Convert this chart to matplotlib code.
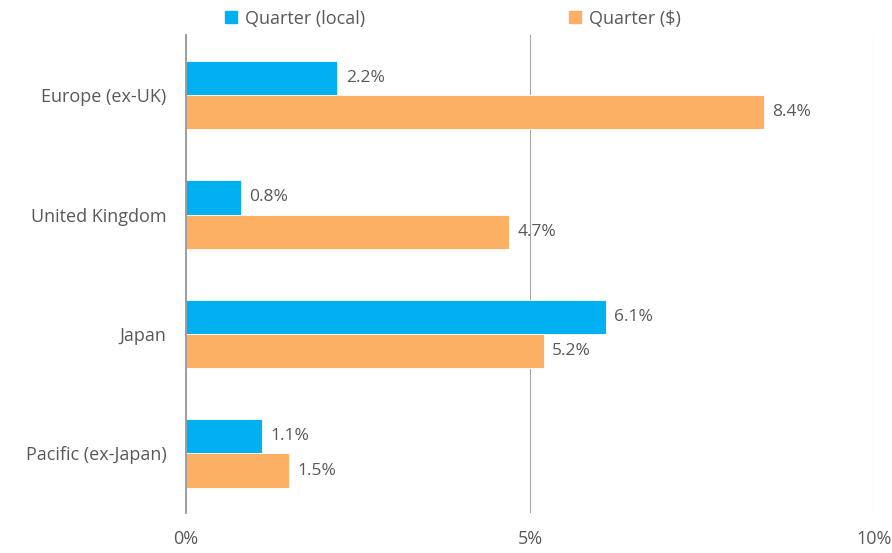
import numpy as np
import matplotlib.pyplot as plt
from matplotlib.patches import Patch

regions = ["Europe (ex-UK)", "United Kingdom", "Japan", "Pacific (ex-Japan)"]
local_ret = [2.2, 0.8, 6.1, 1.1]
usd_ret = [8.4, 4.7, 5.2, 1.5]
series_names = ["Quarter (local)", "Quarter ($)"]
x_ticks = [0, 5, 10]
x_tick_labels = ["0%", "5%", "10%"]

blue = "#00B0F0"
orange = "#FBB063"
text_col = "#595959"

plt.rcParams['font.family'] = ['Open Sans', 'DejaVu Sans']

fig = plt.figure(figsize=(8.92, 5.53), dpi=100)
ax = fig.add_axes([0.2085, 0.072, 0.7715, 0.864])

y = np.arange(len(regions))
h = 0.286
b1 = ax.barh(y - h / 2, local_ret, height=h, color=blue, edgecolor="white", linewidth=0.6)
b2 = ax.barh(y + h / 2, usd_ret, height=h, color=orange, edgecolor="white", linewidth=0.6)

for bars, vals in [(b1, local_ret), (b2, usd_ret)]:
    for bar, v in zip(bars, vals):
        ax.annotate(f"{v:.1f}%", (v, bar.get_y() + bar.get_height() / 2),
                    xytext=(6, 0), textcoords="offset points",
                    va="center", ha="left", fontsize=12.5, color=text_col)

ax.set_xlim(0, 10)
ax.set_ylim(len(regions) - 0.5, -0.5)
ax.set_yticks(y)
ax.set_yticklabels(regions, fontsize=13, color=text_col)
ax.set_xticks(x_ticks)
ax.set_xticklabels(x_tick_labels, fontsize=13, color=text_col)
ax.tick_params(axis="both", length=0)
ax.tick_params(axis="y", pad=14)
ax.tick_params(axis="x", pad=12)

for s in ["top", "right", "bottom"]:
    ax.spines[s].set_visible(False)
ax.spines["left"].set_color("#8C8C8C")
ax.spines["left"].set_linewidth(1.2)

for xv in x_ticks[1:]:
    ax.axvline(xv, color="#A6A6A6", linewidth=0.8, zorder=0)

handles = [Patch(color=blue), Patch(color=orange)]
fig.legend(handles, series_names, loc="upper left", bbox_to_anchor=(0.234, 1.012),
           ncol=2, frameon=False, fontsize=13, labelcolor=text_col,
           handlelength=0.65, handleheight=0.65, handletextpad=0.45, columnspacing=11.3)

fig.savefig("out.png", dpi=100)
